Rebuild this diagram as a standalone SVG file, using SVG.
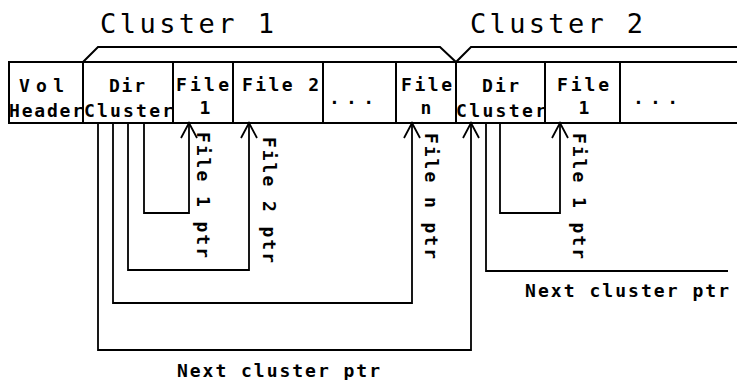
<svg xmlns="http://www.w3.org/2000/svg" width="737" height="380" viewBox="0 0 737 380">
  <style>
    .cell { fill: #fff; stroke: #000; stroke-width: 2; }
    .lbl { font-family: "DejaVu Sans Mono", "Liberation Mono", monospace; font-weight: bold; font-size: 18px; fill: #000; }
    .title { font-family: "DejaVu Sans Mono", "Liberation Mono", monospace; font-weight: normal; font-size: 27px; fill: #000; }
    .wire { fill: none; stroke: #000; stroke-width: 1.8; }
    .brace { fill: none; stroke: #000; stroke-width: 2; }
  </style>
  <defs>
    <marker id="openArrow" markerUnits="userSpaceOnUse" markerWidth="20" markerHeight="20" refX="0" refY="0" orient="auto" overflow="visible">
      <path d="M-15,-8 L0,0 L-15,8" fill="none" stroke="#000" stroke-width="1.8"/>
    </marker>
  </defs>
  <rect width="737" height="380" fill="#fff"/>

  <!-- cluster titles and braces -->
  <g id="cluster1-title">
    <text class="title" x="100" y="33" textLength="174" lengthAdjust="spacing">Cluster 1</text>
  </g>
  <g id="cluster2-title">
    <text class="title" x="470" y="33" textLength="173" lengthAdjust="spacing">Cluster 2</text>
  </g>
  <g id="braces">
    <path class="brace" d="M83 62 L98 47 H440 L456 62 L471 47 H737"/>
  </g>

  <!-- volume layout cells -->
  <g id="vol-header">
    <rect class="cell" x="9" y="62" width="74" height="61"/>
    <text class="lbl" x="19" y="92" textLength="45" lengthAdjust="spacing">Vol</text>
    <text class="lbl" x="9" y="117" textLength="74" lengthAdjust="spacing">Header</text>
  </g>
  <g id="dir-cluster-1">
    <rect class="cell" x="83" y="62" width="90" height="61"/>
    <text class="lbl" x="109" y="92" textLength="36" lengthAdjust="spacing">Dir</text>
    <text class="lbl" x="84" y="117" textLength="89" lengthAdjust="spacing">Cluster</text>
  </g>
  <g id="file-1">
    <rect class="cell" x="173" y="62" width="60" height="61"/>
    <text class="lbl" x="176" y="91" textLength="53" lengthAdjust="spacing">File</text>
    <text class="lbl" x="205" y="114" text-anchor="middle">1</text>
  </g>
  <g id="file-2">
    <rect class="cell" x="233" y="62" width="90" height="61"/>
    <text class="lbl" x="242" y="91" textLength="77" lengthAdjust="spacing">File 2</text>
  </g>
  <g id="files-more-1">
    <rect class="cell" x="323" y="62" width="73" height="61"/>
    <text class="lbl" x="329" y="104" textLength="45" lengthAdjust="spacing">...</text>
  </g>
  <g id="file-n">
    <rect class="cell" x="396" y="62" width="60" height="61"/>
    <text class="lbl" x="401" y="91" textLength="51" lengthAdjust="spacing">File</text>
    <text class="lbl" x="426" y="114" text-anchor="middle">n</text>
  </g>
  <g id="dir-cluster-2">
    <rect class="cell" x="456" y="62" width="89" height="61"/>
    <text class="lbl" x="482" y="92" textLength="37" lengthAdjust="spacing">Dir</text>
    <text class="lbl" x="456" y="117" textLength="90" lengthAdjust="spacing">Cluster</text>
  </g>
  <g id="file-1b">
    <rect class="cell" x="545" y="62" width="75" height="61"/>
    <text class="lbl" x="557" y="91" textLength="52" lengthAdjust="spacing">File</text>
    <text class="lbl" x="584" y="114" text-anchor="middle">1</text>
  </g>
  <g id="files-more-2">
    <rect class="cell" x="620" y="62" width="130" height="61"/>
    <text class="lbl" x="633" y="104" textLength="45" lengthAdjust="spacing">...</text>
  </g>

  <!-- pointers from directory clusters -->
  <g id="connectors">
    <path class="wire" d="M144 123 V213 H189 V123" marker-end="url(#openArrow)"/>
    <path class="wire" d="M128 123 V270 H249 V123" marker-end="url(#openArrow)"/>
    <path class="wire" d="M113 123 V303 H412 V123" marker-end="url(#openArrow)"/>
    <path class="wire" d="M98 123 V350 H471 V123" marker-end="url(#openArrow)"/>
    <path class="wire" d="M500 123 V213 H560 V123" marker-end="url(#openArrow)"/>
    <path class="wire" d="M486 123 V271 H728"/>

    <text class="lbl" transform="translate(197,132) rotate(90)" textLength="126" lengthAdjust="spacing">File 1 ptr</text>
    <text class="lbl" transform="translate(263,137) rotate(90)" textLength="126" lengthAdjust="spacing">File 2 ptr</text>
    <text class="lbl" transform="translate(425,133) rotate(90)" textLength="126" lengthAdjust="spacing">File n ptr</text>
    <text class="lbl" transform="translate(573,133) rotate(90)" textLength="126" lengthAdjust="spacing">File 1 ptr</text>

    <text class="lbl" x="525" y="297" textLength="204" lengthAdjust="spacing">Next cluster ptr</text>
    <text class="lbl" x="177" y="377" textLength="203" lengthAdjust="spacing">Next cluster ptr</text>
  </g>
</svg>
